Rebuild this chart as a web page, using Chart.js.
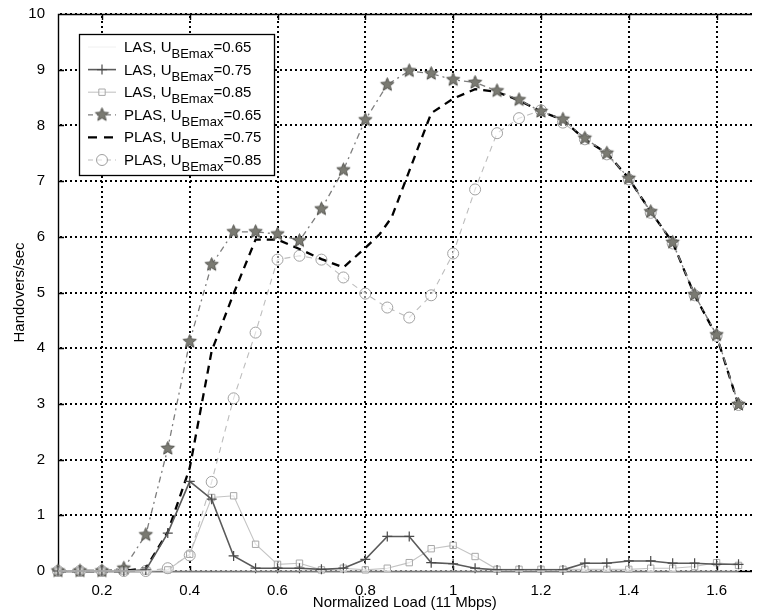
<!DOCTYPE html>
<html>
<head>
<meta charset="utf-8">
<script src="https://cdn.jsdelivr.net/npm/chart.js@4.4.1/dist/chart.umd.min.js"></script>
<style>
  html, body { margin: 0; padding: 0; background: #fff; }
  #wrap { width: 759px; height: 613px; }
</style>
</head>
<body>
<div id="wrap"><canvas id="chart" width="759" height="613"></canvas></div>
<script>
// Handovers/sec vs normalized load, LAS vs PLAS

const loads = [0.10, 0.15, 0.20, 0.25, 0.30, 0.35, 0.40, 0.45, 0.50, 0.55, 0.60, 0.65, 0.70, 0.75, 0.80, 0.85,
               0.90, 0.95, 1.00, 1.05, 1.10, 1.15, 1.20, 1.25, 1.30, 1.35, 1.40, 1.45, 1.50, 1.55, 1.60, 1.65];

const las65 = [0, 0, 0, 0, 0, 0, 0, 0, 0, 0, 0, 0, 0, 0, 0, 0,
               0, 0, 0, 0, 0, 0, 0, 0, 0, 0, 0, 0, 0, 0, 0, 0];
const las75 = [0, 0, 0, 0, 0.02, 0.68, 1.61, 1.29, 0.27, 0.05, 0.05, 0.05, 0.03, 0.05, 0.21, 0.62,
               0.62, 0.15, 0.13, 0.05, 0.02, 0.02, 0.02, 0.02, 0.14, 0.14, 0.18, 0.18, 0.14, 0.14, 0.12, 0.12];
const las85 = [0, 0, 0, 0, 0, 0.02, 0.30, 1.32, 1.35, 0.48, 0.12, 0.14, 0.02, 0.05, 0.02, 0.05,
               0.15, 0.40, 0.46, 0.26, 0.03, 0.03, 0.03, 0.03, 0.03, 0.03, 0.03, 0.05, 0.05, 0.08, 0.15, 0.10];
const plas65 = [0, 0, 0, 0.05, 0.65, 2.2, 4.12, 5.5, 6.09, 6.09, 6.05, 5.93, 6.5, 7.2, 8.1, 8.73,
                8.98, 8.93, 8.82, 8.77, 8.62, 8.46, 8.25, 8.11, 7.77, 7.5, 7.05, 6.45, 5.9, 4.96, 4.24, 2.99];
const plas85 = [0, 0, 0, 0, 0, 0.05, 0.28, 1.6, 3.1, 4.28, 5.59, 5.66, 5.59, 5.27, 4.98, 4.73,
                4.55, 4.95, 5.7, 6.85, 7.86, 8.13, 8.27, 8.05, 7.75, 7.48, 7.03, 6.43, 5.88, 4.95, 4.22, 2.98];

// the dashed PLAS 0.75 curve has no markers, read at its corners
const plas75Load = [0.10, 0.15, 0.20, 0.25, 0.30, 0.35, 0.40, 0.45, 0.50, 0.55, 0.60, 0.65, 0.70, 0.75, 0.80, 0.833,
                    0.86, 0.95, 1.00, 1.05, 1.10, 1.15, 1.20, 1.25, 1.30, 1.35, 1.40, 1.45, 1.50, 1.55, 1.60, 1.65];
const plas75 = [0, 0, 0, 0, 0.05, 0.7, 1.85, 3.95, 4.98, 5.95, 5.95, 5.78, 5.6, 5.45, 5.8, 6.05,
                6.35, 8.22, 8.48, 8.65, 8.6, 8.45, 8.25, 8.1, 7.75, 7.5, 7.05, 6.45, 5.9, 4.95, 4.22, 2.98];

const schemes = ['LAS', 'LAS', 'LAS', 'PLAS', 'PLAS', 'PLAS'];
const uMax = ['0.65', '0.75', '0.85', '0.65', '0.75', '0.85'];

const xTicks = [0.2, 0.4, 0.6, 0.8, 1.0, 1.2, 1.4, 1.6];
const yTicks = [0, 1, 2, 3, 4, 5, 6, 7, 8, 9, 10];
const X_MIN = 0.1, X_MAX = 1.68, Y_MIN = 0, Y_MAX = 10;

const FONT = "'Liberation Sans', Arial, Helvetica, sans-serif";

function makeStar(r, fill, stroke) {
    const c = document.createElement('canvas');
    const s = Math.ceil(r * 2 + 3);
    c.width = s; c.height = s;
    const g = c.getContext('2d');
    g.beginPath();
    for (let k = 0; k < 10; k++) {
        const a = -Math.PI / 2 + k * Math.PI / 5;
        const rr = k % 2 ? r * 0.45 : r;
        g.lineTo(s / 2 + rr * Math.cos(a), s / 2 + rr * Math.sin(a));
    }
    g.closePath();
    g.fillStyle = fill;
    g.fill();
    g.strokeStyle = stroke;
    g.lineWidth = 1;
    g.stroke();
    return c;
}

const starImg = makeStar(7, '#7a7a72', '#555550');

function pts(xs, ys) {
    return ys.map((y, i) => ({ x: xs[i], y: y }));
}

const datasets = [
    {
        data: pts(loads, las65), borderColor: '#f0f0f0', borderWidth: 1,
        pointRadius: 0
    },
    {
        data: pts(loads, las75), borderColor: '#5a5a5a', borderWidth: 1.6,
        pointStyle: 'cross', pointRadius: 5, pointBorderWidth: 1.2, pointBorderColor: '#4a4a4a'
    },
    {
        data: pts(loads, las85), borderColor: '#c4c4c4', borderWidth: 1.1,
        pointStyle: 'rect', pointRadius: 4.5, pointBorderWidth: 1, pointBorderColor: '#a8a8a8', pointBackgroundColor: 'rgba(255,255,255,0.6)'
    },
    {
        data: pts(loads, plas65), borderColor: '#7e7e7e', borderWidth: 1.3, borderDash: [6, 4, 2, 4],
        pointStyle: starImg, pointRadius: 6
    },
    {
        data: pts(plas75Load, plas75), borderColor: '#000', borderWidth: 2.3, borderDash: [8, 6],
        pointRadius: 0
    },
    {
        data: pts(loads, plas85), borderColor: '#bdbdbd', borderWidth: 1.1, borderDash: [6, 5],
        pointStyle: 'circle', pointRadius: 5.5, pointBorderWidth: 1, pointBorderColor: '#a0a0a0', pointBackgroundColor: 'rgba(255,255,255,0.5)'
    }
].map(d => Object.assign({ fill: false, tension: 0, clip: false }, d));

// dotted grid, frame and inward tick marks
function dottedGrid(chart) {
    const ctx = chart.ctx;
    const a = chart.chartArea;
    const L = Math.round(a.left), R = Math.round(a.right), T = Math.round(a.top), B = Math.round(a.bottom);
    const px = v => Math.round(L + (v - X_MIN) / (X_MAX - X_MIN) * (R - L));
    const py = v => Math.round(B - (v - Y_MIN) / (Y_MAX - Y_MIN) * (B - T));
    ctx.save();
    ctx.strokeStyle = '#000';
    ctx.lineWidth = 2;
    ctx.setLineDash([2, 3]);
    ctx.beginPath();
    for (const v of xTicks) {
        const x = px(v);
        ctx.moveTo(x, T + 2);
        ctx.lineTo(x, B);
    }
    for (const v of yTicks) {
        const y = py(v);
        ctx.moveTo(L + 2, y);
        ctx.lineTo(R, y);
    }
    ctx.stroke();
    ctx.setLineDash([]);

    ctx.lineWidth = 1.4;
    ctx.beginPath();
    ctx.moveTo(L + 0.5, B + 0.5); ctx.lineTo(L + 0.5, T + 0.5); ctx.lineTo(R, T + 0.5);
    ctx.moveTo(L + 0.5, B + 0.5); ctx.lineTo(R, B + 0.5);
    for (const v of xTicks) {
        const x = px(v) + 0.5;
        ctx.moveTo(x, B); ctx.lineTo(x, B - 5);
        ctx.moveTo(x, T); ctx.lineTo(x, T + 6);
    }
    for (const v of yTicks) {
        const y = py(v) + 0.5;
        ctx.moveTo(L, y); ctx.lineTo(L + 6, y);
    }
    ctx.stroke();
    ctx.restore();
}

function subLegend(chart) {
    const ctx = chart.ctx;
    const bx = 79.5, by = 34.5, bw = 195, bh = 141;
    ctx.save();
    ctx.fillStyle = '#fff';
    ctx.fillRect(bx, by, bw, bh);
    ctx.strokeStyle = '#000';
    ctx.lineWidth = 1.3;
    ctx.strokeRect(bx, by, bw, bh);

    chart.data.datasets.forEach((ds, i) => {
        const base = 52 + i * 22.6;
        const ly = base - 5;
        ctx.save();
        ctx.strokeStyle = ds.borderColor;
        ctx.lineWidth = ds.borderWidth;
        ctx.setLineDash(ds.borderDash ? [5, 4] : []);
        if (i === 4) ctx.setLineDash([9, 7]);
        ctx.beginPath();
        ctx.moveTo(88, ly); ctx.lineTo(116, ly);
        ctx.stroke();
        ctx.setLineDash([]);
        if (ds.pointRadius > 0) {
            ctx.strokeStyle = ds.pointBorderColor || ds.borderColor;
            ctx.fillStyle = ds.pointBackgroundColor || '#fff';
            ctx.lineWidth = ds.pointBorderWidth || 1;
            Chart.helpers.drawPoint(ctx, {
                pointStyle: ds.pointStyle, radius: ds.pointRadius,
                borderWidth: ds.pointBorderWidth || 1, rotation: 0
            }, 102, ly);
        }
        ctx.restore();

        ctx.fillStyle = '#000';
        ctx.textBaseline = 'alphabetic';
        ctx.textAlign = 'left';
        ctx.font = '15px ' + FONT;
        let tx = 124;
        const head = schemes[i] + ', U';
        ctx.fillText(head, tx, base);
        tx += ctx.measureText(head).width;
        ctx.font = '13px ' + FONT;
        ctx.fillText('BEmax', tx, base + 6);
        tx += ctx.measureText('BEmax').width;
        ctx.font = '15px ' + FONT;
        ctx.fillText('=' + uMax[i], tx, base);
    });
    ctx.restore();
}

Chart.defaults.font.family = FONT;
Chart.defaults.font.size = 15;
Chart.defaults.color = '#000';

new Chart(document.getElementById('chart'), {
    type: 'line',
    data: { datasets: datasets },
    options: {
        responsive: false,
        animation: false,
        events: [],
        layout: { padding: { top: 13, left: 0, right: 0, bottom: 0 } },
        plugins: { legend: { display: false }, tooltip: { enabled: false } },
        scales: {
            x: {
                type: 'linear',
                min: X_MIN,
                max: X_MAX,
                afterBuildTicks: scale => { scale.ticks = xTicks.map(v => ({ value: v })); },
                afterFit: scale => { scale.height = 42; },
                ticks: {
                    padding: 3,
                    maxRotation: 0,
                    callback: v => String(Math.round(v * 10) / 10)
                },
                grid: { display: false },
                border: { display: false },
                title: { display: true, text: 'Normalized Load (11 Mbps)', font: { size: 15 }, padding: { top: 0, bottom: 1 } }
            },
            y: {
                min: Y_MIN,
                max: Y_MAX,
                afterBuildTicks: scale => { scale.ticks = yTicks.map(v => ({ value: v })); },
                afterFit: scale => { scale.width = 58; },
                ticks: { padding: 5 },
                grid: { display: false },
                border: { display: false },
                title: { display: true, text: 'Handovers/sec', font: { size: 15 }, padding: { top: 11, bottom: 0 } }
            }
        }
    },
    plugins: [{ id: 'grid', beforeDatasetsDraw: dottedGrid }, { id: 'legendBox', afterDatasetsDraw: subLegend }]
});
</script>
</body>
</html>
